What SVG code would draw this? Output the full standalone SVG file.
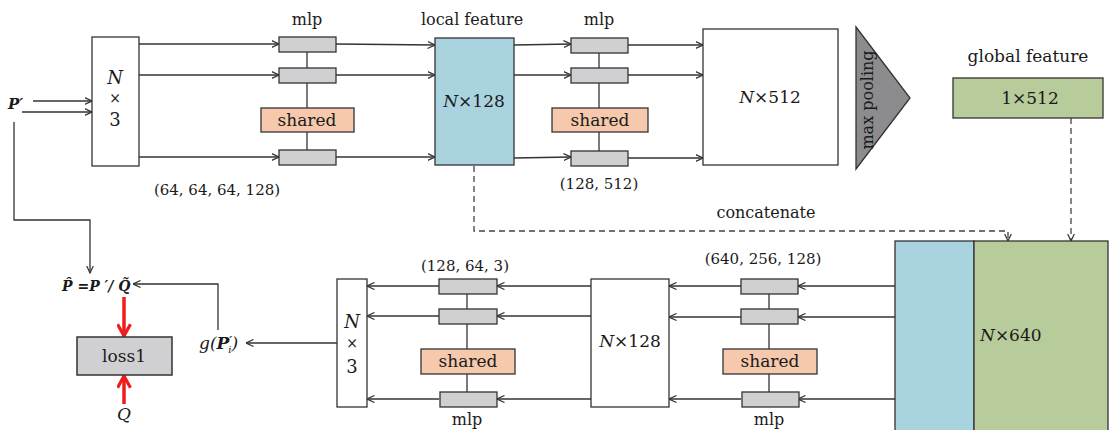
<svg xmlns="http://www.w3.org/2000/svg" width="1109" height="430" viewBox="0 0 1109 430">
<defs>
<marker id="arr" viewBox="0 0 8 8" refX="7.5" refY="4" markerWidth="8" markerHeight="8" markerUnits="userSpaceOnUse" orient="auto">
<path d="M0,0.5 L7.5,4 L0,7.5" fill="none" stroke="#333" stroke-width="1.2"/>
</marker>
<marker id="red" viewBox="0 0 14 14" refX="12" refY="7" markerWidth="15" markerHeight="15" markerUnits="userSpaceOnUse" orient="auto">
<path d="M1,1 L12,7 L1,13" fill="none" stroke="#ee1c1c" stroke-width="3"/>
</marker>
</defs>
<style>
text{font-family:"DejaVu Serif","Liberation Serif",serif;fill:#1a1a1a;font-size:16px}
.c{text-anchor:middle}
.t{font-size:15px}
.i{font-style:italic}
.bi{font-style:italic;font-weight:bold}
.box{fill:#fff;stroke:#333;stroke-width:1.3}
.g{fill:#d0d0d2;stroke:#333;stroke-width:1.3}
.sh{fill:#f6c9ad;stroke:#333;stroke-width:1.3}
.blue{fill:#a9d3df;stroke:#333;stroke-width:1.3}
.green{fill:#b7cb9b;stroke:#333;stroke-width:1.3}
.ln{fill:none;stroke:#333;stroke-width:1.3}
.ar{fill:none;stroke:#333;stroke-width:1.3;marker-end:url(#arr)}
.da{fill:none;stroke:#444;stroke-width:1.3;stroke-dasharray:6,4}
.rd{fill:none;stroke:#ee1c1c;stroke-width:3.5;marker-end:url(#red)}
</style>

<g id="connectors">
<line class="ar" x1="33" y1="101" x2="92" y2="101"/>
<line class="ar" x1="22" y1="112" x2="92" y2="112"/>
<polyline class="ar" points="14,122 14,220 90,220 90,273"/>
<line class="ar" x1="139" y1="44" x2="279" y2="44"/>
<line class="ar" x1="139" y1="75" x2="279" y2="75"/>
<line class="ar" x1="139" y1="157" x2="279" y2="157"/>
<line class="ln" x1="307" y1="52" x2="307" y2="150"/>
<line class="ar" x1="336" y1="44" x2="435" y2="45"/>
<line class="ar" x1="336" y1="75" x2="435" y2="75"/>
<line class="ar" x1="336" y1="157" x2="435" y2="157"/>
<line class="ar" x1="514" y1="45" x2="571" y2="44"/>
<line class="ar" x1="514" y1="75" x2="571" y2="75"/>
<line class="ar" x1="514" y1="158" x2="571" y2="157"/>
<line class="ln" x1="599" y1="53" x2="599" y2="151"/>
<line class="ar" x1="628" y1="45" x2="703" y2="45"/>
<line class="ar" x1="628" y1="75" x2="703" y2="75"/>
<line class="ar" x1="628" y1="158" x2="703" y2="158"/>
<polyline class="da" points="474,166 474,231 1008,231 1008,241" marker-end="url(#arr)"/>
<polyline class="da" points="1071,118 1071,241" marker-end="url(#arr)"/>
<line class="ar" x1="895" y1="286" x2="798" y2="286"/>
<line class="ar" x1="895" y1="317" x2="798" y2="317"/>
<line class="ar" x1="895" y1="399" x2="798" y2="399"/>
<line class="ln" x1="769" y1="294" x2="769" y2="392"/>
<line class="ar" x1="741" y1="286" x2="669" y2="286"/>
<line class="ar" x1="741" y1="317" x2="669" y2="317"/>
<line class="ar" x1="741" y1="399" x2="669" y2="399"/>
<line class="ar" x1="591" y1="286" x2="497" y2="286"/>
<line class="ar" x1="591" y1="316" x2="497" y2="316"/>
<line class="ar" x1="591" y1="399" x2="497" y2="399"/>
<line class="ln" x1="467" y1="294" x2="467" y2="392"/>
<line class="ar" x1="439" y1="286" x2="367" y2="286"/>
<line class="ar" x1="439" y1="316" x2="367" y2="316"/>
<line class="ar" x1="439" y1="399" x2="367" y2="399"/>
<line class="ar" x1="337" y1="343" x2="246" y2="343"/>
<polyline class="ar" points="218,330 218,284 133,284"/>
<line class="rd" x1="124" y1="297" x2="124" y2="336"/>
<line class="rd" x1="124" y1="404" x2="124" y2="376"/>
</g>

<g id="input-label"><text x="8" y="109" class="bi" style="font-size:15px">P′</text></g>

<g id="n3-top">
<rect class="box" x="92" y="37" width="47" height="129"/>
<text x="115" y="84" class="c i" style="font-size:18px">N</text>
<text x="115" y="103" class="c" style="font-size:14px">×</text>
<text x="115" y="126" class="c" style="font-size:18px">3</text>
</g>

<g id="mlp1">
<text x="307" y="25" class="c">mlp</text>
<rect class="g" x="279" y="37" width="57" height="15"/>
<rect class="g" x="279" y="68" width="57" height="15"/>
<rect class="sh" x="261" y="108" width="93" height="24"/>
<text x="307" y="126" class="c" style="font-size:17px">shared</text>
<rect class="g" x="279" y="150" width="57" height="15"/>
<text x="217" y="195" class="c t">(64, 64, 64, 128)</text>
</g>

<g id="local-feature">
<text x="472" y="25" class="c">local feature</text>
<rect class="blue" x="435" y="38" width="79" height="127"/>
<text x="474" y="107" class="c" style="font-size:17px"><tspan class="i">N</tspan>×128</text>
</g>

<g id="mlp2">
<text x="599" y="25" class="c">mlp</text>
<rect class="g" x="571" y="38" width="57" height="15"/>
<rect class="g" x="571" y="68" width="57" height="15"/>
<rect class="sh" x="552" y="108" width="96" height="24"/>
<text x="600" y="126" class="c" style="font-size:17px">shared</text>
<rect class="g" x="571" y="151" width="57" height="15"/>
<text x="599" y="189" class="c t">(128, 512)</text>
</g>

<g id="n512">
<rect class="box" x="703" y="29" width="135" height="136"/>
<text x="770" y="103" class="c" style="font-size:17px"><tspan class="i">N</tspan>×512</text>
</g>

<g id="max-pooling">
<polygon points="856,27 910,98 856,169" fill="#8c8c8e" stroke="#333" stroke-width="1.3"/>
<text x="0" y="0" class="c" transform="translate(873,100) rotate(-90)">max pooling</text>
</g>

<g id="global-feature">
<text x="1028" y="62" class="c" style="font-size:17px">global feature</text>
<rect class="green" x="953" y="78" width="150" height="40"/>
<text x="1030" y="104" class="c" style="font-size:17px">1×512</text>
</g>

<text x="766" y="218" class="c">concatenate</text>

<g id="n640">
<rect class="blue" x="895" y="241" width="79" height="192"/>
<rect class="green" x="974" y="241" width="134" height="192"/>
<text x="980" y="341" style="font-size:17px"><tspan class="i">N</tspan>×640</text>
</g>

<g id="mlp3">
<text x="763" y="264" class="c t">(640, 256, 128)</text>
<rect class="g" x="741" y="279" width="57" height="15"/>
<rect class="g" x="741" y="309" width="57" height="15"/>
<rect class="sh" x="723" y="349" width="94" height="25"/>
<text x="770" y="367" class="c" style="font-size:17px">shared</text>
<rect class="g" x="742" y="392" width="57" height="15"/>
<text x="769" y="425" class="c">mlp</text>
</g>

<g id="n128-bottom">
<rect class="box" x="591" y="279" width="78" height="128"/>
<text x="630" y="347" class="c" style="font-size:17px"><tspan class="i">N</tspan>×128</text>
</g>

<g id="mlp4">
<text x="465" y="271" class="c t">(128, 64, 3)</text>
<rect class="g" x="439" y="279" width="58" height="15"/>
<rect class="g" x="439" y="309" width="58" height="15"/>
<rect class="sh" x="421" y="349" width="94" height="25"/>
<text x="468" y="367" class="c" style="font-size:17px">shared</text>
<rect class="g" x="440" y="392" width="57" height="15"/>
<text x="467" y="425" class="c">mlp</text>
</g>

<g id="n3-bottom">
<rect class="box" x="337" y="279" width="30" height="128"/>
<text x="352" y="328" class="c i" style="font-size:18px">N</text>
<text x="352" y="348" class="c" style="font-size:14px">×</text>
<text x="352" y="373" class="c" style="font-size:18px">3</text>
</g>

<g id="g-output">
<text x="199" y="349" class="i" style="font-size:17px">g(<tspan class="bi">P</tspan><tspan class="bi" dy="-5" style="font-size:11px">′</tspan><tspan dx="-4" dy="9" style="font-size:10px">i</tspan><tspan dy="-4">)</tspan></text>
</g>

<g id="p-hat">
<text x="62" y="291" class="bi" style="font-size:14px">P̂ =P ′/ Q̃</text>
</g>

<g id="loss1">
<rect x="77" y="337" width="95" height="38" fill="#d0d0d2" stroke="#333" stroke-width="1.5"/>
<text x="124" y="362" class="c" style="font-size:17px">loss1</text>
</g>

<g id="q"><text x="124" y="420" class="c i" style="font-size:17px">Q</text></g>
</svg>
